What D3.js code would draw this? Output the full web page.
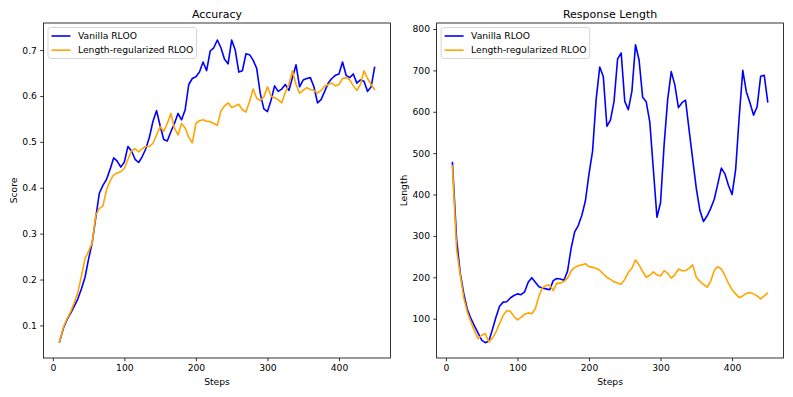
<!DOCTYPE html>
<html>
<head>
<meta charset="utf-8">
<script src="https://cdn.jsdelivr.net/npm/d3@7"></script>
<style>
    body { margin: 0; background: #fff; }
    svg { display: block; font-family: "DejaVu Sans", sans-serif; }
</style>
</head>
<body>
<div id="chart"></div>
<script>
// training steps (x values shared by every series)
const steps = [
    9, 15, 20, 25, 30, 35, 40, 45, 50, 55,
    60, 65, 70, 75, 80, 85, 90, 95, 100, 105,
    110, 115, 120, 125, 130, 135, 140, 145, 150, 155,
    160, 165, 170, 175, 180, 185, 190, 195, 200, 205,
    210, 215, 220, 225, 230, 235, 240, 245, 250, 255,
    260, 265, 270, 275, 280, 285, 290, 295, 300, 305,
    310, 315, 320, 325, 330, 335, 340, 345, 350, 355,
    360, 365, 370, 375, 380, 385, 390, 395, 400, 405,
    410, 415, 420, 425, 430, 435, 440, 445, 450
];

const seriesNames = ["Vanilla RLOO", "Length-regularized RLOO"];

// accuracy (score) per step
const accVanilla = [
    0.062, 0.095, 0.113, 0.127, 0.142, 0.158, 0.180, 0.205, 0.245, 0.280,
    0.335, 0.388, 0.405, 0.418, 0.440, 0.465, 0.458, 0.445, 0.456, 0.490,
    0.480, 0.462, 0.455, 0.468, 0.485, 0.510, 0.545, 0.568, 0.535, 0.505,
    0.502, 0.522, 0.540, 0.562, 0.548, 0.570, 0.625, 0.638, 0.642, 0.652,
    0.674, 0.655, 0.698, 0.705, 0.722, 0.705, 0.680, 0.670, 0.722, 0.700,
    0.652, 0.655, 0.692, 0.690, 0.678, 0.660, 0.605, 0.572, 0.566, 0.590,
    0.622, 0.610, 0.615, 0.625, 0.612, 0.640, 0.668, 0.620, 0.635, 0.638,
    0.640, 0.620, 0.585, 0.592, 0.610, 0.628, 0.638, 0.645, 0.648, 0.674,
    0.645, 0.640, 0.648, 0.628, 0.635, 0.632, 0.610, 0.620, 0.664
];
const accLengthReg = [
    0.062, 0.097, 0.115, 0.130, 0.150, 0.172, 0.208, 0.245, 0.262, 0.280,
    0.340, 0.355, 0.360, 0.395, 0.415, 0.428, 0.432, 0.435, 0.442, 0.462,
    0.480, 0.485, 0.478, 0.485, 0.490, 0.490, 0.497, 0.515, 0.533, 0.523,
    0.540, 0.562, 0.530, 0.515, 0.540, 0.530, 0.510, 0.498, 0.540, 0.546,
    0.548, 0.545, 0.544, 0.540, 0.536, 0.568, 0.578, 0.585, 0.575, 0.578,
    0.582, 0.570, 0.565, 0.588, 0.615, 0.595, 0.590, 0.598, 0.620, 0.600,
    0.596, 0.592, 0.585, 0.608, 0.625, 0.655, 0.625, 0.606, 0.612, 0.618,
    0.614, 0.612, 0.606, 0.612, 0.621, 0.625, 0.628, 0.622, 0.625, 0.638,
    0.640, 0.635, 0.622, 0.612, 0.625, 0.655, 0.638, 0.625, 0.613
];

// response length per step
const lenVanilla = [
    479, 290, 210, 160, 122, 100, 82, 65, 48, 42,
    46, 74, 104, 130, 140, 141, 150, 156, 160, 158,
    165, 188, 199, 188, 177, 174, 172, 170, 192, 197,
    196, 193, 215, 270, 310, 325, 350, 385, 450, 505,
    630, 708, 685, 565, 580, 625, 728, 742, 625, 605,
    650, 762, 725, 635, 624, 575, 460, 345, 380, 520,
    630, 697, 665, 610, 622, 628, 555, 485, 415, 362,
    335, 348, 366, 388, 425, 464, 450, 422, 400, 460,
    588, 700, 648, 622, 592, 612, 686, 688, 622
];
const lenLengthReg = [
    471, 266, 205, 150, 115, 92, 70, 52, 60, 64,
    44, 53, 68, 88, 108, 119, 118, 106, 97, 103,
    111, 114, 112, 124, 155, 175, 180, 181, 168, 186,
    186, 190, 198, 215, 224, 228, 230, 233, 226, 224,
    222, 217, 208, 200, 195, 189, 186, 183, 195, 212,
    222, 242, 230, 214, 200, 205, 213, 206, 203, 216,
    210, 198, 206, 220, 216, 216, 222, 230, 200, 190,
    183, 176, 190, 216, 226, 220, 205, 185, 170, 160,
    151, 155, 161, 163, 160, 155, 148, 155, 163
];

const xTicks = [0, 100, 200, 300, 400];
const accTicks = [0.1, 0.2, 0.3, 0.4, 0.5, 0.6, 0.7];
const lenTicks = [100, 200, 300, 400, 500, 600, 700, 800];

const colors = ["#0000ff", "#ffa500"];
const W = 793, H = 397;
const fontSize = 9.2;

const svg = d3.select("#chart").append("svg")
    .attr("width", W)
    .attr("height", H);

svg.append("rect").attr("width", W).attr("height", H).attr("fill", "#fff");

function toPoints(values) {
    return steps.map((s, i) => ({step: s, value: values[i]}));
}

// one matplotlib-like subplot
function drawPanel(opts) {
    const x = d3.scaleLinear().domain([-13.05, 472.05]).range([opts.left, opts.right]);
    const y = d3.scaleLinear().domain(opts.yDomain).range([opts.bottom, opts.top]);
    const g = svg.append("g");

    // x axis
    const xa = g.append("g")
        .attr("transform", "translate(0," + opts.bottom + ")")
        .call(d3.axisBottom(x).tickValues(xTicks).tickSize(3.3).tickPadding(3.3).tickSizeOuter(0));
    // y axis
    const ya = g.append("g")
        .attr("transform", "translate(" + opts.left + ",0)")
        .call(d3.axisLeft(y).tickValues(opts.yTicks).tickFormat(opts.yFormat).tickSize(3.3).tickPadding(3.3).tickSizeOuter(0));

    [xa, ya].forEach(a => {
        a.attr("font-family", null).attr("font-size", null);
        a.select(".domain").remove();
        a.selectAll("line").attr("stroke", "#000").attr("stroke-width", 0.8);
        a.selectAll("text").style("font-size", fontSize + "px").attr("fill", "#000");
    });

    // lines
    const line = d3.line()
        .x(d => x(d.step))
        .y(d => y(d.value));
    opts.series.forEach((values, i) => {
        g.append("path")
            .datum(toPoints(values))
            .attr("fill", "none")
            .attr("stroke", colors[i])
            .attr("stroke-width", 1.6)
            .attr("stroke-linejoin", "round")
            .attr("d", line);
    });

    // frame
    g.append("rect")
        .attr("x", opts.left)
        .attr("y", opts.top)
        .attr("width", opts.right - opts.left)
        .attr("height", opts.bottom - opts.top)
        .attr("fill", "none")
        .attr("stroke", "#000")
        .attr("stroke-width", 0.8);

    // title and labels
    const cx = (opts.left + opts.right) / 2;
    g.append("text")
        .attr("x", cx).attr("y", opts.top - 5.5)
        .attr("text-anchor", "middle")
        .style("font-size", "11px")
        .text(opts.title);
    g.append("text")
        .attr("x", cx).attr("y", 385)
        .attr("text-anchor", "middle")
        .style("font-size", fontSize + "px")
        .text("Steps");
    g.append("text")
        .attr("transform", "translate(" + opts.yLabelX + "," + (opts.top + opts.bottom) / 2 + ") rotate(-90)")
        .attr("text-anchor", "middle")
        .style("font-size", fontSize + "px")
        .text(opts.yLabel);

    // legend
    const lg = g.append("g").attr("transform", "translate(" + (opts.left + 4.5) + "," + (opts.top + 4.5) + ")");
    lg.append("rect")
        .attr("width", opts.legendWidth)
        .attr("height", 31)
        .attr("rx", 2.5)
        .attr("fill", "#fff")
        .attr("fill-opacity", 0.8)
        .attr("stroke", "#cccccc")
        .attr("stroke-width", 0.8);
    seriesNames.forEach((name, i) => {
        const ly = 8.5 + i * 14.2;
        lg.append("line")
            .attr("x1", 3.5).attr("x2", 22.5)
            .attr("y1", ly).attr("y2", ly)
            .attr("stroke", colors[i])
            .attr("stroke-width", 1.6);
        lg.append("text")
            .attr("x", 30).attr("y", ly)
            .attr("dy", "0.35em")
            .style("font-size", fontSize + "px")
            .text(name);
    });
}

drawPanel({
    left: 43.5, right: 390.5, top: 23, bottom: 358,
    yDomain: [0.029, 0.759], yTicks: accTicks, yFormat: d3.format(".1f"),
    series: [accVanilla, accLengthReg],
    title: "Accuracy", yLabel: "Score", yLabelX: 17,
    legendWidth: 148.5
});

drawPanel({
    left: 436.6, right: 783.6, top: 23, bottom: 358,
    yDomain: [5, 814.5], yTicks: lenTicks, yFormat: d3.format("d"),
    series: [lenVanilla, lenLengthReg],
    title: "Response Length", yLabel: "Length", yLabelX: 407,
    legendWidth: 148.5
});
</script>
</body>
</html>
